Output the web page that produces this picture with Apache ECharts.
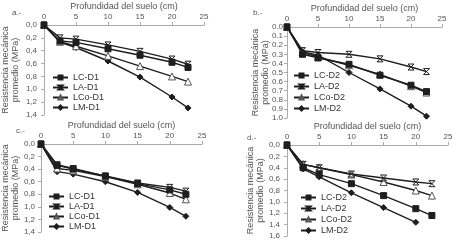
<!DOCTYPE html>
<html>
<head>
<meta charset="utf-8">
<script src="https://cdn.jsdelivr.net/npm/echarts@6/dist/echarts.min.js"></script>
<style>
  html, body { margin: 0; padding: 0; background: #fff; }
  .wrap { position: relative; width: 460px; height: 240px; }
  .panel { position: absolute; }
</style>
</head>
<body>
<div class="wrap">
  <div id="pa" class="panel" style="left:0;top:0;width:230px;height:120px"></div>
  <div id="pb" class="panel" style="left:230px;top:0;width:230px;height:120px"></div>
  <div id="pc" class="panel" style="left:0;top:120px;width:230px;height:120px"></div>
  <div id="pd" class="panel" style="left:230px;top:120px;width:230px;height:120px"></div>
</div>
<script>
// profundidad (cm)
const depth = [0, 2.5, 5, 10, 15, 20, 22.5]

// a.- D1
const lcA = [0, 0.25, 0.27, 0.37, 0.47, 0.58, 0.66]
const laA = [0, 0.20, 0.22, 0.31, 0.41, 0.53, 0.61]
const lcoA = [0, 0.26, 0.33, 0.48, 0.64, 0.80, 0.88]
const lmA = [0, 0.27, 0.35, 0.56, 0.81, 1.12, 1.29]

// b.- D2
const lcB = [0, 0.30, 0.34, 0.41, 0.53, 0.64, 0.71]
const laB = [0, 0.26, 0.28, 0.30, 0.35, 0.44, 0.49]
const lcoB = [0, 0.28, 0.33, 0.42, 0.52, 0.65, 0.72]
const lmB = [0, 0.27, 0.31, 0.50, 0.68, 0.87, 0.98]

// c.- D1
const lcC = [0, 0.34, 0.40, 0.51, 0.63, 0.73, 0.80]
const laC = [0, 0.33, 0.39, 0.51, 0.62, 0.69, 0.75]
const lcoC = [0, 0.39, 0.42, 0.52, 0.64, 0.78, 0.88]
const lmC = [0, 0.44, 0.48, 0.60, 0.77, 1.01, 1.15]

// d.- D2
const lcD = [0, 0.40, 0.52, 0.68, 0.89, 1.12, 1.24]
const laD = [0, 0.34, 0.40, 0.51, 0.58, 0.65, 0.68]
const lcoD = [0, 0.34, 0.40, 0.52, 0.65, 0.80, 0.89]
const lmD = [0, 0.42, 0.56, 0.84, 1.10, 1.36, null]

const FONT = 'Liberation Sans, Arial, sans-serif'
const INK = '#1e1e1e'

function pairs(vals) {
  return depth.map((d, i) => [d, vals[i]]).filter(p => p[1] != null)
}

function buildSeries(names, sets) {
  const styles = [
    { symbol: 'rect', symbolSize: 6, color: INK, border: INK },
    { symbol: 'path://M0,0L10,0L0,10L10,10Z', symbolSize: 6, color: 'rgba(0,0,0,0)', border: INK },
    { symbol: 'triangle', symbolSize: 7, color: '#fff', border: '#555' },
    { symbol: 'diamond', symbolSize: 6, color: INK, border: INK }
  ]
  return names.map((n, i) => ({
    name: n,
    type: 'line',
    data: pairs(sets[i]),
    symbol: styles[i].symbol,
    symbolSize: styles[i].symbolSize,
    showAllSymbol: true,
    lineStyle: { color: INK, width: 1.4 },
    itemStyle: { color: styles[i].color, borderColor: styles[i].border, borderWidth: 1 },
    z: 10 - i
  }))
}

function makePanel(el, cfg) {
  const chart = echarts.init(document.getElementById(el))
  chart.setOption({
    animation: false,
    textStyle: { fontFamily: FONT },
    graphic: [{
      type: 'text', left: cfg.tagX, top: cfg.tagY,
      style: { text: cfg.tag, fontSize: 8, fill: '#555', fontFamily: FONT }
    }],
    legend: {
      orient: 'vertical',
      left: cfg.legLeft,
      top: cfg.legTop,
      height: 100,
      itemWidth: 15,
      itemHeight: 5,
      itemGap: cfg.legGap,
      padding: 0,
      textStyle: { fontSize: 9, color: '#333', lineHeight: 9 },
      data: cfg.names
    },
    grid: {
      left: cfg.grid[0], top: cfg.grid[1], width: cfg.grid[2], height: cfg.grid[3],
      outerBoundsMode: 'none', containLabel: false
    },
    xAxis: {
      type: 'value',
      position: 'top',
      min: 0,
      max: 25,
      interval: 5,
      name: 'Profundidad del suelo (cm)',
      nameLocation: 'middle',
      nameMoveOverlap: false,
      nameGap: 14,
      nameTextStyle: { fontSize: 9, color: '#555' },
      axisLine: { lineStyle: { color: '#aaa' } },
      axisTick: { show: true, length: 3, lineStyle: { color: '#aaa' } },
      axisLabel: { fontSize: 8, color: '#555', margin: 4 },
      splitLine: { show: false }
    },
    yAxis: {
      type: 'value',
      inverse: true,
      min: 0,
      max: cfg.yMax,
      interval: cfg.yStep,
      name: 'Resistencia mecánica\npromedio (MPa)',
      nameLocation: 'middle',
      nameRotate: 90,
      nameMoveOverlap: false,
      nameGap: cfg.yNameGap,
      nameTextStyle: { fontSize: 9, color: '#555', lineHeight: 10 },
      axisLine: { show: true, lineStyle: { color: '#aaa' } },
      axisTick: { show: true, length: 3, lineStyle: { color: '#aaa' } },
      axisLabel: {
        fontSize: 8, color: '#555', margin: cfg.yMargin,
        formatter: v => cfg.comma ? v.toFixed(1).replace('.', ',') : v.toFixed(1)
      },
      splitLine: { show: false }
    },
    series: buildSeries(cfg.names, cfg.sets)
  })
}

makePanel('pa', {
  tag: 'a.-', tagX: 12, tagY: 9,
  names: ['LC-D1', 'LA-D1', 'LCo-D1', 'LM-D1'],
  sets: [lcA, laA, lcoA, lmA],
  grid: [44, 25, 160, 90], yMax: 1.4, yStep: 0.2, comma: true, yNameGap: 23, yMargin: 7,
  legLeft: 52, legTop: 73, legGap: 1
})
makePanel('pb', {
  tag: 'b.-', tagX: 23, tagY: 9,
  names: ['LC-D2', 'LA-D2', 'LCo-D2', 'LM-D2'],
  sets: [lcB, laB, lcoB, lmB],
  grid: [57, 27, 155, 91], yMax: 1.0, yStep: 0.1, comma: false, yNameGap: 16, yMargin: 4,
  legLeft: 63, legTop: 71, legGap: 2
})
makePanel('pc', {
  tag: 'c.-', tagX: 16, tagY: 7,
  names: ['LC-D1', 'LA-D1', 'LCo-D1', 'LM-D1'],
  sets: [lcC, laC, lcoC, lmC],
  grid: [41, 24, 161, 88], yMax: 1.4, yStep: 0.2, comma: true, yNameGap: 20, yMargin: 6,
  legLeft: 48, legTop: 72, legGap: 1
})
makePanel('pd', {
  tag: 'd.-', tagX: 17, tagY: 14,
  names: ['LC-D2', 'LA-D2', 'LCo-D2', 'LM-D2'],
  sets: [lcD, laD, lcoD, lmD],
  grid: [57, 25, 161, 91], yMax: 1.6, yStep: 0.2, comma: true, yNameGap: 21, yMargin: 7,
  legLeft: 70, legTop: 73, legGap: 2
})
</script>
</body>
</html>
